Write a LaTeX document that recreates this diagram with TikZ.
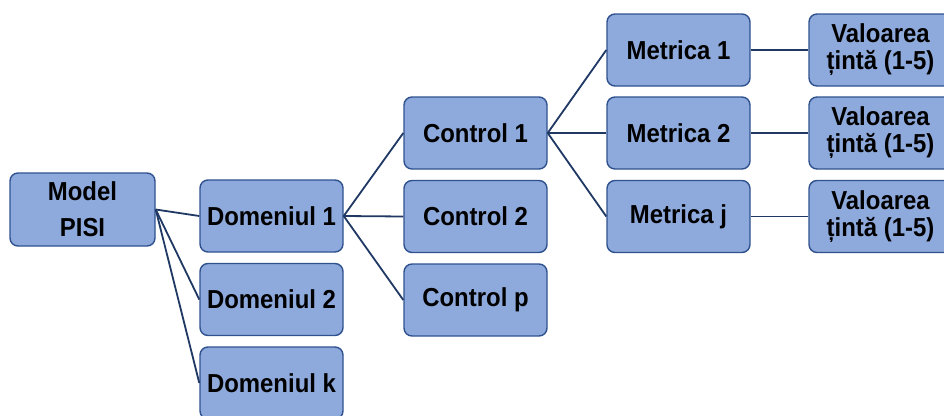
\documentclass[tikz,border=0pt]{standalone}
\usepackage{fontspec}
\setmainfont{Liberation Sans}[FakeStretch=0.92]
\begin{document}
\begin{tikzpicture}[x=1pt,y=-1pt,
  boxfill/.style={draw=boxline,fill=boxblue,line width=1.4pt,rounded corners=8pt,
    minimum width=143pt,minimum height=72pt,inner sep=0pt,align=center,
    font=\fontsize{26}{27}\selectfont\bfseries},
  link/.style={draw=linkblue,line width=1.8pt}]
\definecolor{boxblue}{RGB}{142,169,219}
\definecolor{boxline}{RGB}{47,82,143}
\definecolor{linkblue}{RGB}{32,56,100}
\useasboundingbox (0,0) rectangle (944,415);

% root
\node[boxfill,minimum width=145pt,minimum height=73pt] (m) at (82.5,209.5) {Model\\[9pt]PISI};

% domains
\node[boxfill] (d1) at (271.5,216) {Domeniul 1};
\node[boxfill] (d2) at (271.5,299.5) {Domeniul 2};
\node[boxfill] (dk) at (271.5,383) {Domeniul k};

% controls
\node[boxfill] (c1) at (475.5,133) {Control 1};
\node[boxfill] (c2) at (475.5,216.5) {Control 2};
\node[boxfill] (cp) at (475.5,300) {Control p};

% metrics
\node[boxfill] (k1) at (678.5,50) {Metrica 1};
\node[boxfill] (k2) at (678.5,133) {Metrica 2};
\node[boxfill] (kj) at (678.5,216.5) {Metrica j};

% target values
\node[boxfill] (v1) at (880.5,50) {Valoarea\\ țintă (1-5)};
\node[boxfill] (v2) at (880.5,133) {Valoarea\\ țintă (1-5)};
\node[boxfill] (vj) at (880.5,216.5) {Valoarea\\ țintă (1-5)};

% connectors
\foreach \t in {d1,d2,dk} \draw[link] (m.east) -- (\t.west);
\foreach \t in {c1,c2,cp} \draw[link] (d1.east) -- (\t.west);
\foreach \t in {k1,k2,kj} \draw[link] (c1.east) -- (\t.west);
\draw[link] (k1) -- (v1);
\draw[link] (k2) -- (v2);
\draw[link] (kj) -- (vj);
\end{tikzpicture}
\end{document}
